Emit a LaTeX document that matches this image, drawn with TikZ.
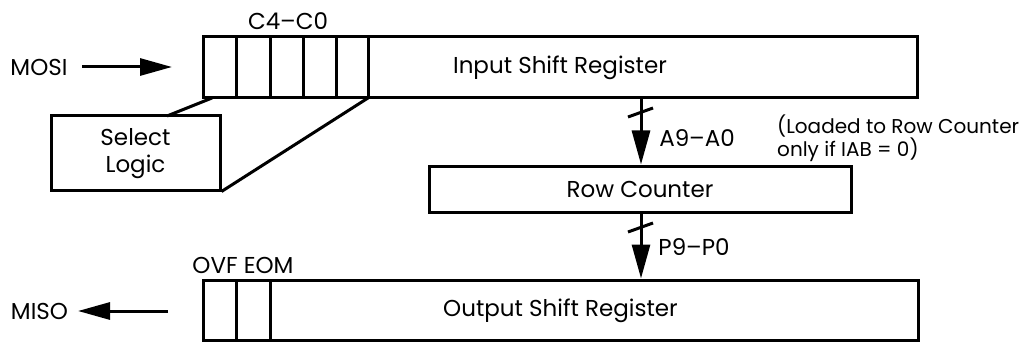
\documentclass[tikz,border=0pt]{standalone}
\usepackage{fontspec}
\setmainfont{Poppins}
\usetikzlibrary{arrows.meta}
\begin{document}
\begin{tikzpicture}[x=1pt,y=-1pt,
  reg/.style={draw,line width=3pt,rectangle,inner sep=0pt},
  wire/.style={line width=3pt},
  lbl/.style={inner sep=0pt,font=\fontsize{23}{27}\selectfont},
  note/.style={inner sep=0pt,font=\fontsize{20}{24}\selectfont},
  harrow/.style={line width=3pt,-{Triangle[length=32pt,width=17pt]}},
  varrow/.style={line width=3pt,-{Triangle[length=34pt,width=18pt]}}]
\useasboundingbox (0,0) rectangle (1025,342);
% boxes
\node[reg,minimum width=714pt,minimum height=61pt] (isr) at (560,67.5) {};
\node[lbl] (isrt) at (560,68) {Input Shift Register};
\node[reg,minimum width=169pt,minimum height=74pt] (sel) at (135.5,153) {};
\node[lbl,align=center] (selt) at (135.5,154) {Select\\Logic};
\node[reg,minimum width=422pt,minimum height=46pt] (rc) at (640,189) {};
\node[lbl] (rct) at (640,189) {Row Counter};
\node[reg,minimum width=715pt,minimum height=60pt] (osr) at (560.5,310) {};
\node[lbl] (osrt) at (560.5,311) {Output Shift Register};
% input cells
\foreach \x in {236,270,303,336,368} \draw[wire] (\x,37) -- (\x,98);
\coordinate (c0) at (212,98);
\coordinate (c1) at (368,98);
\draw[wire] (c0) -- (167,116);
\draw[wire] (c1) -- (sel.south east);
% output cells
\foreach \x in {236,270} \draw[wire] (\x,280) -- (\x,340);
% labels
\node[lbl] (mosi) at (39,67) {MOSI};
\node[lbl] (miso) at (39.5,311) {MISO};
\node[lbl] (cc) at (288,21) {C4–C0};
\node[lbl] (oe) at (243,265) {OVF EOM};
\node[lbl] (aa) at (697,138) {A9–A0};
\node[lbl] (pp) at (694,247) {P9–P0};
\node[note,anchor=west] (n1) at (777,126) {(Loaded to Row Counter};
\node[note,anchor=west] (n2) at (777,150) {only if IAB = 0)};
% arrows
\coordinate (mosiS) at (82,67);
\coordinate (mosiE) at (172,67);
\draw[harrow] (mosiS) -- (mosiE);
\coordinate (misoS) at (168,311);
\coordinate (misoE) at (78,311);
\draw[harrow] (misoS) -- (misoE);
\draw[varrow] (isr.south -| 641,0) -- (rc.north -| 641,0);
\draw[varrow] (rc.south -| 641,0) -- (osr.north -| 641,0);
\draw[wire] (628,117) -- (653,108);
\draw[wire] (628,232) -- (653,223);
\end{tikzpicture}
\end{document}
